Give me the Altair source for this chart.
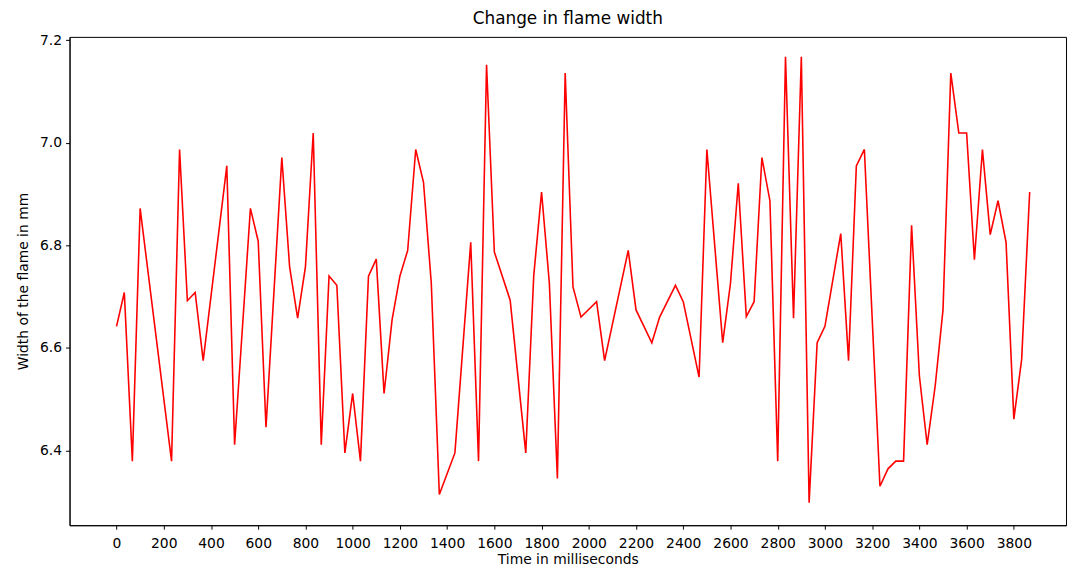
import altair as alt
import pandas as pd

# Time stamps (ms) at the line's vertices
time_ms = [0, 33, 67, 100, 233, 267, 300, 333, 367, 467,
           500, 567, 600, 633, 700, 733, 767, 800, 833, 867,
           900, 933, 967, 1000, 1033, 1067, 1100, 1133, 1167, 1200,
           1233, 1267, 1300, 1333, 1367, 1433, 1500, 1533, 1567, 1600,
           1667, 1733, 1767, 1800, 1833, 1867, 1900, 1933, 1967, 2033,
           2067, 2167, 2200, 2267, 2300, 2367, 2400, 2467, 2500, 2567,
           2600, 2633, 2667, 2700, 2733, 2767, 2800, 2833, 2867, 2900,
           2933, 2967, 3000, 3067, 3100, 3133, 3167, 3233, 3267, 3300,
           3333, 3367, 3400, 3433, 3467, 3500, 3533, 3567, 3600, 3633,
           3667, 3700, 3733, 3767, 3800, 3833, 3867]

# Flame width (mm) at those times
width_mm = [6.642, 6.708, 6.379, 6.872, 6.379, 6.987, 6.692, 6.708, 6.575, 6.955,
            6.411, 6.872, 6.808, 6.445, 6.971, 6.758, 6.658, 6.758, 7.019, 6.411,
            6.740, 6.722, 6.395, 6.511, 6.379, 6.740, 6.773, 6.511, 6.655, 6.740,
            6.790, 6.987, 6.923, 6.726, 6.314, 6.395, 6.806, 6.379, 7.152, 6.787,
            6.693, 6.395, 6.742, 6.904, 6.726, 6.345, 7.136, 6.719, 6.660, 6.690,
            6.575, 6.790, 6.674, 6.610, 6.660, 6.722, 6.690, 6.543, 6.987, 6.610,
            6.726, 6.921, 6.661, 6.690, 6.971, 6.887, 6.379, 7.168, 6.658, 7.168,
            6.298, 6.610, 6.642, 6.823, 6.575, 6.955, 6.987, 6.330, 6.364, 6.379,
            6.379, 6.839, 6.545, 6.411, 6.526, 6.674, 7.136, 7.019, 7.019, 6.772,
            6.987, 6.821, 6.887, 6.806, 6.461, 6.577, 6.904]

x_ticks = list(range(0, 3801, 200))
y_ticks = [6.4, 6.6, 6.8, 7.0, 7.2]

df = pd.DataFrame({"t": time_ms, "w": width_mm})

FONT = "DejaVu Sans"

chart = (
    alt.Chart(df, title=alt.TitleParams(
        "Change in flame width", font=FONT, fontSize=17, fontWeight="normal",
        color="black", offset=5, anchor="middle"))
    .mark_line(color="#ff0000", strokeWidth=1.6, clip=True)
    .encode(
        x=alt.X("t:Q", title="Time in milliseconds",
                scale=alt.Scale(domain=[-199, 4021], nice=False, zero=False),
                axis=alt.Axis(values=x_ticks, format="d", grid=False,
                              tickSize=4, labelPadding=7, titlePadding=3,
                              labelFlush=False, labelOverlap=False)),
        y=alt.Y("w:Q", title="Width of the flame in mm",
                scale=alt.Scale(domain=[6.254, 7.2066], nice=False, zero=False),
                axis=alt.Axis(values=y_ticks, format=".1f", grid=False,
                              tickSize=4, labelPadding=4, titlePadding=9)),
    )
    .properties(width=1004, height=492,
                autosize=alt.AutoSizeParams(type="none"),
                padding={"left": 62, "top": 27, "right": 4, "bottom": 41})
    .configure_view(stroke="black", strokeWidth=1)
    .configure_axis(domainColor="black", tickColor="black", labelColor="black",
                    titleColor="black", labelFont=FONT, titleFont=FONT,
                    labelFontSize=14, titleFontSize=14, titleFontWeight="normal",
                    domainWidth=1, tickWidth=1)
)

chart.save("out.html", embed_options={"renderer": "svg", "actions": False})
